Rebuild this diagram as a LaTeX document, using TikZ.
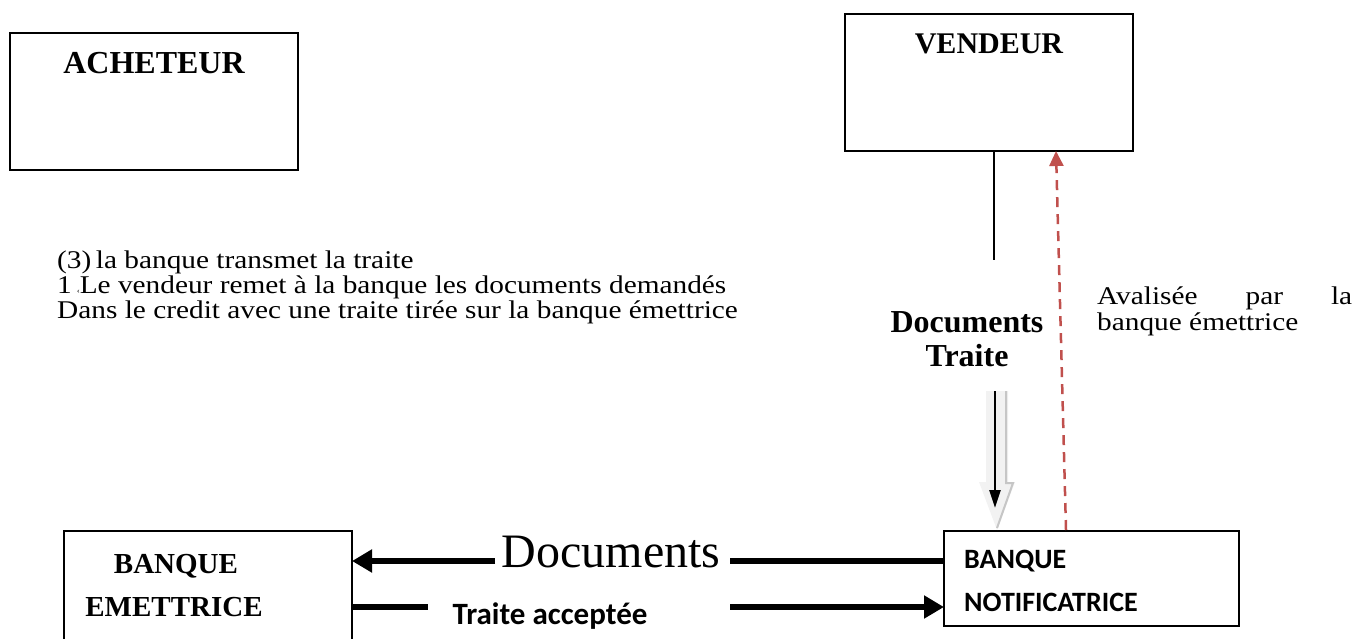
\documentclass[tikz,border=0pt]{standalone}
\usepackage{fontspec}
\usepackage{graphicx}
\setmainfont{Liberation Serif}
\newfontfamily\calib{Carlito}
\usetikzlibrary{arrows.meta}
\definecolor{redline}{HTML}{C0504D}
\newcommand\widetxt[1]{\scalebox{1.15}[1]{#1}}
\begin{document}
\begin{tikzpicture}[x=1pt,y=-1pt,
  box/.style={draw, line width=1.5pt, inner sep=0pt, outer sep=0pt},
  title/.style={font=\fontsize{30}{32}\selectfont\bfseries, inner sep=0pt},
  body/.style={font=\fontsize{25.5}{25}\selectfont, inner sep=0pt, anchor=base west},
  thick arrow/.style={line width=6pt, -{Triangle[length=20pt,width=22pt]}},
  thick line/.style={line width=6pt}]
\useasboundingbox (0,0) rectangle (1357,638);

% boxes
\node[box, minimum width=288pt, minimum height=137pt] (ach) at (154,101.5) {};
\node[box, minimum width=288pt, minimum height=137pt] (ven) at (989,82.5) {};
\node[box, minimum width=288pt, minimum height=140pt] (emet) at (208,601) {};
\node[box, minimum width=295pt, minimum height=95pt] (notif) at (1091.5,578.5) {};

% box titles
\node[title, font=\fontsize{32}{34}\selectfont\bfseries] (achT) at (154,63) {ACHETEUR};
\node[title] (venT) at (989,44) {VENDEUR};
\node[font=\fontsize{29}{30}\selectfont\bfseries, inner sep=0pt] (emT1) at (176,566) {BANQUE};
\node[font=\fontsize{29}{30}\selectfont\bfseries, inner sep=0pt] (emT2) at (174,607) {EMETTRICE};
\node[font=\calib\fontsize{28}{30}\selectfont\bfseries, inner sep=0pt, anchor=west] (noT1) at (964,561) {BANQUE};
\node[font=\calib\fontsize{28}{30}\selectfont\bfseries, inner sep=0pt, anchor=west] (noT2) at (964,602) {NOTIFICATRICE};

% left text
\node[body] (t1) at (57,268) {\widetxt{(3)\hspace{4pt}la banque transmet la traite}};
\node[body] (t2) at (57,293) {\widetxt{1\,{\fontsize{8}{8}\selectfont‹}Le vendeur remet à la banque les documents demandés}};
\node[body] (t3) at (57,318) {\widetxt{Dans le credit avec une traite tirée sur la banque émettrice}};

% right text
\node[body] (r1) at (1097,304) {\makebox[255pt][s]{\widetxt{Avalisée}\hfill\widetxt{par}\hfill\widetxt{la}}};
\node[body] (r2) at (1097,330) {\widetxt{banque émettrice}};

% Documents / Traite label
\node[font=\fontsize{32}{34}\selectfont\bfseries, align=center, inner sep=0pt] (dt) at (967,339) {Documents\\Traite};

% vertical line from vendeur
\coordinate (vl) at (994,260);
\draw[line width=1.2pt] (ven.south -| vl) -- (vl);

% shaded double arrow
\fill[gray!10] (986,391) -- (1008,391) -- (1008,482) -- (1015,482) -- (997,530) -- (979,482) -- (986,482) -- cycle;
\draw[gray!45, line width=2pt] (1006,391) -- (1006,483) -- (1013,483) -- (997,528);
\coordinate (sa) at (995,391);
\coordinate (sb) at (995,508);
\draw[line width=2.5pt, -{Triangle[length=18pt,width=11pt]}] (sa) -- (sb);

% red dashed arrow
\coordinate (rb) at (1066,530);
\draw[redline, line width=2.5pt, dash pattern=on 10pt off 7pt, -{Triangle[length=15pt,width=14pt]}] (rb) -- (ven.south -| 1056,0);

% Documents arrow
\node[font=\fontsize{48}{50}\selectfont, inner sep=0pt] (docs) at (611,552) {Documents};
\coordinate (d1) at (730,561);
\coordinate (d2) at (495,561);
\draw[thick line] (notif.west |- d1) -- (d1);
\draw[thick arrow] (d2) -- (emet.east |- d2);

% Traite acceptee arrow
\node[font=\calib\fontsize{31}{34}\selectfont\bfseries, inner sep=0pt] (ta) at (550,616) {Traite acceptée};
\coordinate (a1) at (428,607);
\coordinate (a2) at (730,607);
\draw[thick line] (emet.east |- a1) -- (a1);
\draw[thick arrow] (a2) -- (notif.west |- a2);
\end{tikzpicture}
\end{document}
